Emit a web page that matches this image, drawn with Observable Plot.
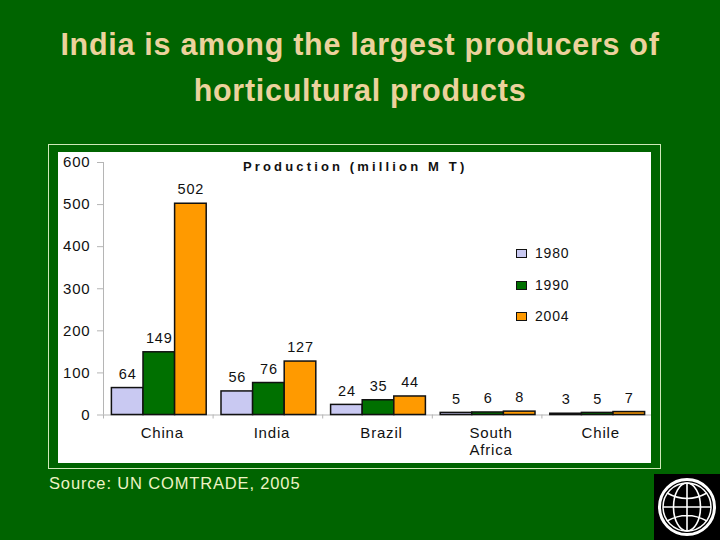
<!DOCTYPE html>
<html><head><meta charset="utf-8">
<script src="https://cdn.jsdelivr.net/npm/d3@7"></script>
<script src="https://cdn.jsdelivr.net/npm/@observablehq/plot@0.6"></script>
<style>
html,body{margin:0;padding:0;background:#006400;width:720px;height:540px;overflow:hidden;font-family:"Liberation Sans",Arial,sans-serif}
#title{position:absolute;left:0;top:21px;width:720px;text-align:center;color:#ecd29c;font-weight:bold;font-size:30.5px;line-height:46px;letter-spacing:.72px}
#frame{position:absolute;left:48px;top:144px;width:611px;height:323px;border:1px solid #cfe8b8}
#panel{position:absolute;left:58px;top:152px;width:593px;height:311px;background:#fff}
#chartTitle{position:absolute;left:243px;top:159px;color:#111;font-weight:bold;font-size:13px;letter-spacing:3.15px;white-space:nowrap;line-height:16px}
#legend div.item{position:absolute;left:516px;display:flex;align-items:center;font-size:14px;letter-spacing:.8px;color:#111;line-height:16px}
#legend .sw{width:9px;height:7px;border:1px solid #111;margin-right:8px}
#source{position:absolute;left:49px;top:474px;color:#eef3c4;font-size:16.5px;line-height:18px;letter-spacing:.85px}
#logo{position:absolute;left:654px;top:474px}
svg{overflow:visible}
</style></head><body>
<div id="title">India is among the largest producers of<br>horticultural products</div>
<div id="frame"></div>
<div id="panel"></div>
<div id="chartTitle"></div>
<div id="legend"></div>
<div id="source"></div>
<svg id="logo" width="66" height="66" viewBox="0 0 66 66">
<rect width="66" height="66" fill="#000"/>
<g fill="none" stroke="#fff">
<circle cx="33" cy="33" r="27.5" stroke-width="3"/>
<circle cx="33" cy="33" r="24" stroke-width="1.5"/>
<ellipse cx="33" cy="33" rx="13.5" ry="24" stroke-width="1.6"/>
<path d="M33 9V57M9 33H57M13 19Q33 30 53 19M13 47Q33 36 53 47" stroke-width="1.6"/>
</g></svg>
<script>
const countries = ["China","India","Brazil","South Africa","Chile"];
const years = ["1980","1990","2004"];
const values1980 = [64,56,24,5,3];
const values1990 = [149,76,35,6,5];
const values2004 = [502,127,44,8,7];
const yearColors = ["#c9c9f2","#007000","#ff9a00"];
const yTicks = [0,100,200,300,400,500,600];
const chartTitle = "Production (million M T)";
const sourceNote = "Source: UN COMTRADE, 2005";
const series = [values1980,values1990,values2004];

const rows = years.flatMap((year,i)=>countries.map((country,j)=>({country,year,value:series[i][j]})));
const font = {fontFamily:'"Liberation Sans",Arial,sans-serif',fontSize:"14.5px",letterSpacing:"0.8px"};
const step = 548/5, padIn = 0.135, barW = step*(1-padIn)/3, gap = step*padIn/2, edge = -(barW/2 + gap);

const chart = Plot.plot({
  width:593,height:311,marginLeft:45,marginRight:0,marginTop:10,marginBottom:48.5,
  style:{...font,background:"transparent",color:"#111"},
  fx:{domain:countries,paddingInner:padIn,paddingOuter:padIn/2,round:false,axis:null,label:null},
  x:{domain:years,padding:0,round:false,axis:null,label:null},
  y:{domain:[0,600],axis:null,label:null},
  color:{domain:years,range:yearColors},
  marks:[
    Plot.ruleY([0],{stroke:"#b5b5b5",strokeWidth:1,insetLeft:-gap,insetRight:-gap}),
    Plot.ruleX(years.slice(0,1),{x:d=>d,y1:0,y2:0,insetBottom:-4,dx:edge,stroke:"#b5b5b5"}),
    Plot.ruleX([{country:"China",year:"1980"}],{fx:"country",x:"year",y1:0,y2:600,dx:edge,stroke:"#b5b5b5"}),
    Plot.axisY({ticks:yTicks,tickSize:6,tickPadding:7,stroke:"#b5b5b5",fill:"#111",fontSize:15,label:null,anchor:"left",facetAnchor:"left",dx:-gap,textStroke:"none"}),
    Plot.barY(rows,{fx:"country",x:"year",y:"value",fill:"year",stroke:"#111",strokeWidth:1.5,dx:1}),
    Plot.text(rows,{fx:"country",x:"year",y:"value",text:"value",dy:-14,dx:1,fill:"#111"}),
    Plot.axisFx({anchor:"bottom",tickSize:0,tickPadding:11,lineHeight:1.15,dx:4,label:null,fill:"#111",fontSize:15,
      tickFormat:d=>d.replace(" ","\n"),textAnchor:"middle",lineAnchor:"top"})
  ]
});
chart.style.position="absolute";chart.style.left="58px";chart.style.top="152px";
document.body.appendChild(chart);

document.getElementById("chartTitle").textContent = chartTitle;
document.getElementById("source").textContent = sourceNote;
const legendTops=[245,277,308];
years.forEach((y,i)=>{
  const it=document.createElement("div");it.className="item";it.style.top=legendTops[i]+"px";
  const sw=document.createElement("span");sw.className="sw";sw.style.background=yearColors[i];
  it.append(sw,y);document.getElementById("legend").append(it);
});
</script>
</body></html>
